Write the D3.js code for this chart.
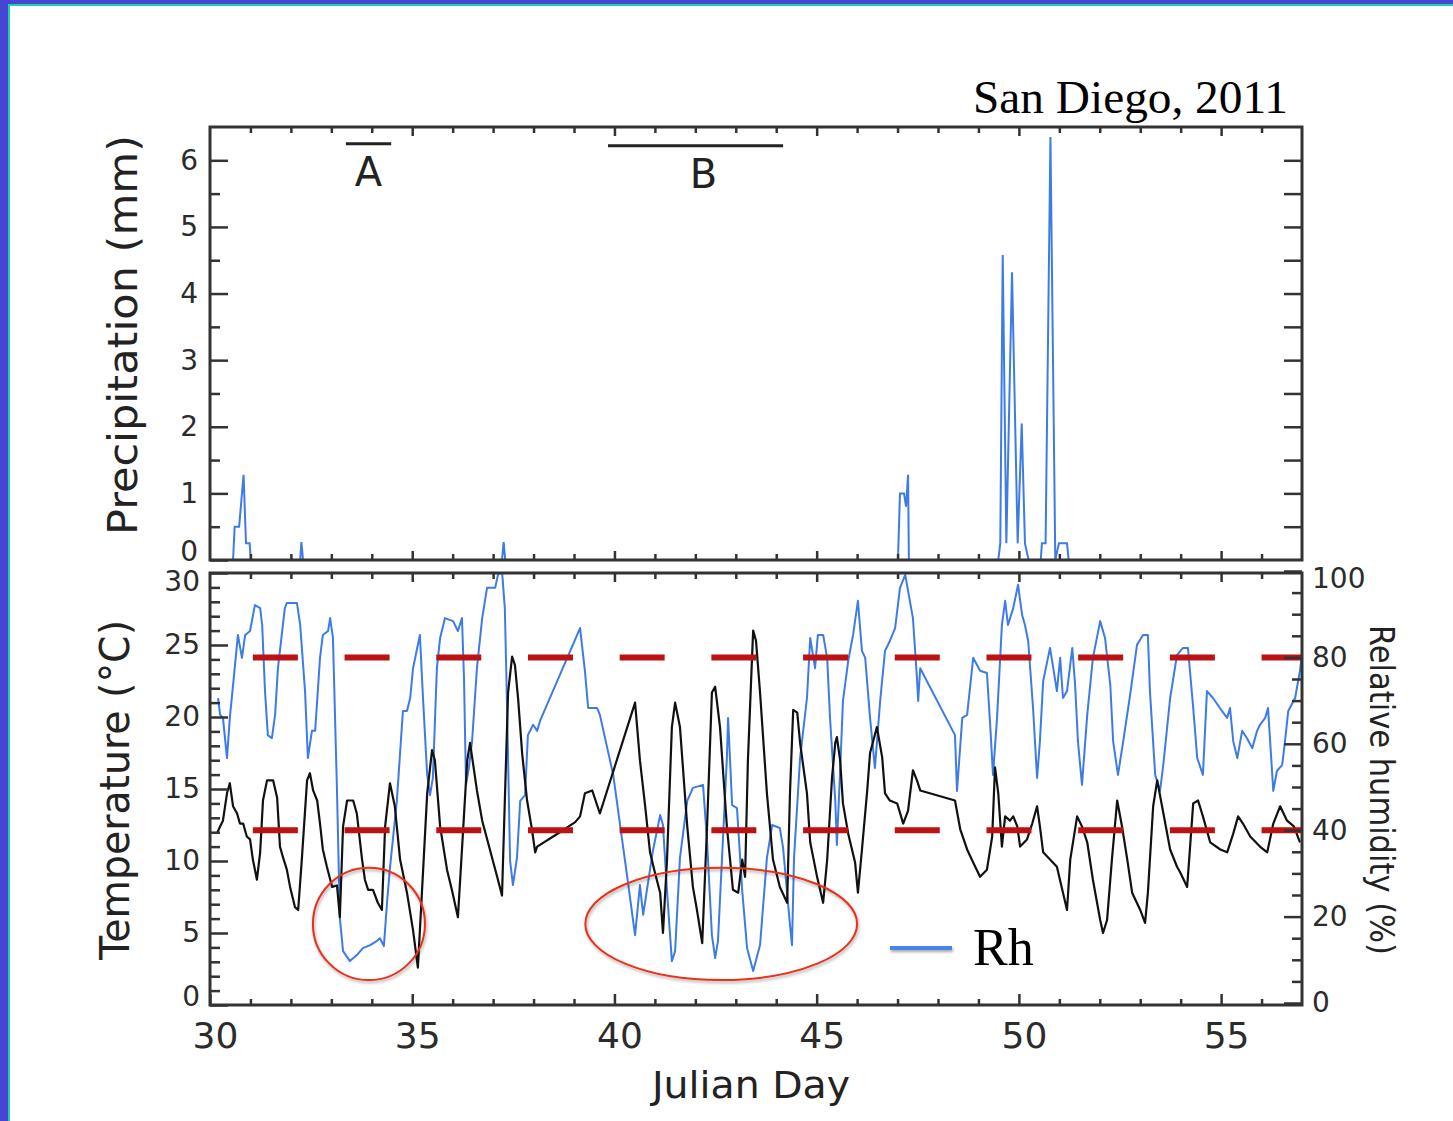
<!DOCTYPE html>
<html>
<head>
<meta charset="utf-8">
<title>San Diego, 2011</title>
<script src="https://d3js.org/d3.v7.min.js"></script>
<style>
  body { margin: 0; background: #fff; }
</style>
</head>
<body>
<script>
// ---- data ----
// precipitation (mm) vs Julian day
const precip = [[30,0],[30.57,0],[30.61,0.5],[30.72,0.5],[30.83,1.28],[30.89,0.25],[30.98,0.25],[31.01,0],
  [32.23,0],[32.26,0.27],[32.30,0],[37.22,0],[37.26,0.27],[37.30,0],
  [47.01,0],[47.06,1.0],[47.16,1.0],[47.21,0.8],[47.26,1.28],[47.28,0],
  [49.49,0],[49.54,0.25],[49.60,4.58],[49.69,0.25],[49.83,4.32],[49.97,0.25],[50.07,2.05],[50.15,0.25],[50.24,0],
  [50.54,0],[50.57,0.25],[50.66,0.25],[50.78,6.35],[50.90,0],[50.99,0.25],[51.19,0.25],[51.23,0],[57,0]];

// relative humidity (%)
const rh = [[30.20,70.6],[30.25,66.7],[30.32,66.0],[30.42,56.7],[30.49,66.0],[30.57,73.6],[30.69,85.2],[30.79,79.9],[30.87,85.2],[30.99,86.1],
  [31.11,92.1],[31.24,91.4],[31.29,87.5],[31.36,72.2],[31.43,62.0],[31.53,61.3],[31.61,66.7],[31.68,77.5],[31.85,91.4],[31.90,92.6],
  [32.15,92.6],[32.23,87.5],[32.35,72.2],[32.42,56.7],[32.52,63.0],[32.60,63.0],[32.72,79.9],[32.79,85.2],[32.92,86.1],[32.97,89.1],
  [33.04,84.5],[33.14,49.1],[33.21,19.7],[33.29,12.0],[33.46,9.7],[33.63,11.1],[33.78,12.7],[33.96,13.4],[34.13,14.4],[34.20,15.0],
  [34.30,13.2],[34.38,23.6],[34.45,31.3],[34.62,46.8],[34.77,67.6],[34.87,67.6],[34.95,70.6],[35.02,77.5],[35.19,85.2],[35.27,69.9],
  [35.37,52.8],[35.44,48.1],[35.51,52.1],[35.61,77.5],[35.69,84.5],[35.81,89.1],[36.01,88.4],[36.13,86.1],[36.23,89.1],[36.28,75.2],
  [36.33,50.5],[36.40,54.4],[36.48,60.6],[36.60,77.5],[36.73,89.1],[36.85,96.1],[37.05,96.1],[37.12,99.1],[37.22,100],[37.29,91.4],
  [37.34,70.6],[37.42,32.9],[37.49,27.3],[37.59,33.6],[37.67,46.8],[37.79,48.1],[37.86,62.0],[37.99,64.4],[38.09,63.0],[38.16,65.3],
  [39.15,86.8],[39.27,76.9],[39.35,68.3],[39.57,68.3],[39.64,66.7],[39.97,52.8],[40.31,29.6],[40.51,15.7],[40.63,27.3],[40.71,20.4],
  [40.81,26.6],[40.95,35.2],[41.13,43.5],[41.20,41.2],[41.30,25.9],[41.42,9.7],[41.50,12.0],[41.62,33.6],[41.80,46.8],[41.94,49.8],
  [42.19,50.5],[42.29,37.5],[42.41,15.7],[42.49,10.4],[42.56,14.4],[42.66,33.6],[42.78,56.7],[42.81,66.0],[42.91,45.8],[43.03,45.1],
  [43.16,25.9],[43.28,12.7],[43.43,7.4],[43.60,13.4],[43.77,33.6],[43.90,41.2],[44.09,40.5],[44.17,35.9],[44.34,18.1],[44.39,13.4],
  [44.44,33.6],[44.59,56.7],[44.76,70.6],[44.84,84.5],[44.96,77.5],[45.03,85.2],[45.16,85.2],[45.26,79.9],[45.33,66.0],[45.46,46.8],
  [45.50,36.6],[45.58,53.7],[45.65,69.9],[45.78,79.2],[45.90,85.2],[46.02,93.1],[46.12,81.5],[46.20,79.9],[46.32,66.0],[46.44,54.4],
  [46.57,69.9],[46.69,81.5],[46.81,83.8],[46.94,86.8],[47.06,96.1],[47.19,99.1],[47.26,95.4],[47.38,89.1],[47.48,75.2],[47.51,69.9],
  [47.56,77.5],[48.42,62.0],[48.47,49.1],[48.60,66.0],[48.72,66.7],[48.87,79.9],[49.04,76.9],[49.21,76.4],[49.29,64.4],[49.36,52.8],
  [49.46,66.0],[49.58,87.5],[49.66,93.1],[49.73,87.5],[49.86,91.4],[49.98,96.8],[50.08,89.8],[50.15,87.5],[50.23,83.8],[50.35,68.3],
  [50.45,52.1],[50.52,60.6],[50.60,74.5],[50.77,82.2],[50.85,77.5],[50.94,72.2],[51.02,79.9],[51.09,70.6],[51.19,72.2],[51.32,82.2],
  [51.39,73.6],[51.46,60.6],[51.56,50.5],[51.69,66.7],[51.83,79.9],[52.01,88.4],[52.13,84.5],[52.26,73.6],[52.33,60.6],[52.45,52.8],
  [52.58,60.6],[52.75,71.3],[52.92,82.9],[53.07,85.2],[53.19,85.2],[53.24,72.2],[53.37,52.8],[53.49,49.1],[53.57,55.1],[53.74,70.6],
  [53.91,80.6],[54.06,82.2],[54.18,82.2],[54.31,68.3],[54.41,56.7],[54.55,52.8],[54.65,72.2],[54.80,70.6],[55.02,67.6],[55.15,66.0],
  [55.22,68.3],[55.30,60.6],[55.40,56.7],[55.52,63.0],[55.64,61.3],[55.77,59.0],[55.89,63.0],[55.96,64.4],[56.09,66.0],[56.16,68.3],
  [56.29,49.1],[56.38,53.7],[56.51,55.1],[56.58,60.6],[56.66,67.6],[56.83,70.6],[56.95,76.9],[57.0,81]];

// temperature (°C)
const temp = [[30.17,11.9],[30.25,12.4],[30.32,12.8],[30.42,14.7],[30.49,15.4],[30.57,13.8],[30.67,13.3],[30.74,12.6],[30.82,12.6],[30.91,11.7],
  [30.99,11.5],[31.06,10.1],[31.16,8.7],[31.24,10.6],[31.31,14.2],[31.41,15.6],[31.56,15.6],[31.66,14.4],[31.73,11.0],[31.80,10.3],
  [31.90,9.4],[31.98,8.2],[32.10,6.8],[32.18,6.6],[32.27,10.1],[32.40,15.6],[32.47,16.1],[32.55,14.9],[32.65,14.2],[32.72,12.6],
  [32.79,10.8],[32.89,9.6],[33.02,8.2],[33.14,8.3],[33.21,6.1],[33.29,12.4],[33.39,14.2],[33.54,14.2],[33.63,13.3],[33.76,10.1],
  [33.83,8.7],[33.91,8.0],[34.03,8.0],[34.15,7.1],[34.25,6.6],[34.33,12.4],[34.45,15.4],[34.57,13.8],[34.70,10.1],[34.87,7.8],
  [35.02,5.2],[35.14,2.6],[35.24,7.8],[35.37,14.7],[35.49,17.7],[35.56,17.0],[35.69,12.4],[35.86,9.4],[35.98,8.0],[36.13,6.1],
  [36.23,10.8],[36.36,17.0],[36.43,18.2],[36.60,14.9],[36.73,12.8],[36.92,10.8],[37.10,8.9],[37.22,7.6],[37.29,14.2],[37.37,21.7],
  [37.47,24.2],[37.54,23.6],[37.62,21.2],[37.72,17.4],[37.84,14.2],[37.96,12.2],[38.04,10.6],[38.09,11.0],[38.65,12.0],[39.03,12.7],
  [39.15,13.1],[39.27,14.7],[39.45,14.9],[39.64,13.3],[40.51,21.0],[40.63,17.0],[40.76,13.8],[40.88,10.6],[41.00,9.2],[41.13,7.8],
  [41.20,5.0],[41.30,10.1],[41.42,19.3],[41.50,21.0],[41.62,19.3],[41.80,12.4],[41.94,8.2],[42.04,6.6],[42.17,4.3],[42.29,12.4],
  [42.41,21.7],[42.49,22.1],[42.61,19.3],[42.78,12.4],[42.93,8.0],[43.06,7.8],[43.16,10.1],[43.23,8.9],[43.30,17.0],[43.40,24.0],
  [43.43,26.0],[43.50,25.3],[43.60,21.7],[43.77,14.7],[43.92,10.1],[44.09,8.2],[44.27,7.1],[44.34,14.7],[44.42,20.5],[44.52,20.3],
  [44.59,18.2],[44.76,14.7],[44.84,11.3],[45.01,8.9],[45.16,7.1],[45.26,10.1],[45.38,15.8],[45.46,18.2],[45.50,18.6],[45.58,17.0],
  [45.65,14.0],[45.78,11.9],[45.95,9.9],[46.02,7.8],[46.12,10.8],[46.25,14.9],[46.32,17.5],[46.49,19.3],[46.62,17.2],[46.69,14.7],
  [46.81,14.2],[46.99,14.0],[47.14,12.6],[47.26,13.5],[47.38,16.3],[47.48,15.6],[47.56,14.9],[48.42,14.2],[48.55,12.2],[48.72,10.8],
  [48.87,9.9],[49.04,8.9],[49.21,9.4],[49.34,11.7],[49.41,16.5],[49.49,14.7],[49.58,11.0],[49.66,13.1],[49.78,12.8],[49.86,13.1],
  [49.96,12.4],[50.03,11.0],[50.20,11.5],[50.33,12.6],[50.45,13.8],[50.52,12.4],[50.60,10.6],[50.77,10.1],[50.94,9.6],[51.09,7.8],
  [51.19,6.6],[51.27,10.1],[51.44,13.1],[51.56,12.4],[51.69,11.3],[51.83,8.7],[52.01,5.9],[52.08,5.0],[52.18,5.9],[52.30,10.1],
  [52.43,14.2],[52.55,12.4],[52.68,10.1],[52.80,7.8],[53.00,6.6],[53.12,5.7],[53.19,7.8],[53.32,13.8],[53.42,15.6],[53.54,13.8],
  [53.74,10.8],[53.91,9.6],[53.99,9.2],[54.16,8.2],[54.21,10.1],[54.31,14.0],[54.43,14.2],[54.55,13.1],[54.73,11.3],[54.98,10.8],
  [55.15,10.6],[55.30,11.9],[55.42,13.1],[55.54,12.6],[55.72,11.7],[55.96,11.0],[56.14,10.6],[56.29,12.6],[56.46,13.8],[56.63,12.8],
  [56.80,12.4],[56.95,11.3]];

const rhThresholds = [40, 80];               // dashed red lines
const periods = [{label: "A", start: 33.36, end: 34.48, level: 6.25},
                 {label: "B", start: 39.84, end: 44.17, level: 6.22}];
// circled low-humidity episodes: centre day, centre Rh, half-width (days), half-height (%)
const circled = [{day: 33.93, rh: 18.3, dx: 1.385, dy: 13},
                 {day: 42.64, rh: 18.3, dx: 3.36, dy: 13}];

const xTicks = [30, 35, 40, 45, 50, 55];
const precipTicks = [0, 1, 2, 3, 4, 5, 6];
const tempTicks = [0, 5, 10, 15, 20, 25, 30];
const rhTicks = [0, 20, 40, 60, 80, 100];

// ---- layout ----
const W = 1453, H = 1121;
const left = 210, right = 1302;
const topY0 = 127, topY1 = 560;     // precipitation panel
const botY0 = 573, botY1 = 1005;    // temperature / Rh panel

const x = d3.scaleLinear().domain([30, 57]).range([left, right]);
const yP = d3.scaleLinear().domain([0, 6.5]).range([topY1, topY0]);
const yT = d3.scaleLinear().domain([0, 30]).range([botY1, botY0]);
const yR = d3.scaleLinear().domain([0, 100]).range([1003, 571]);

const blue = "#3d7be6", axisCol = "#333", textCol = "#2b2b2b";
const sans = "'DejaVu Sans', Verdana, sans-serif";
const serif = "'Liberation Serif', 'Times New Roman', serif";

const svg = d3.select("body").append("svg")
  .attr("width", W).attr("height", H);

// slide frame
svg.append("rect").attr("width", W).attr("height", H).attr("fill", "#4646d4");
svg.append("rect").attr("x", 8).attr("y", 4).attr("width", W).attr("height", H).attr("fill", "#1fd0a9");
svg.append("rect").attr("x", 10).attr("y", 6).attr("width", W).attr("height", H).attr("fill", "#fff");

const defs = svg.append("defs");
defs.append("clipPath").attr("id", "clipTop").append("rect")
  .attr("x", left).attr("y", topY0).attr("width", right - left).attr("height", topY1 - topY0);
defs.append("clipPath").attr("id", "clipBot").append("rect")
  .attr("x", left).attr("y", botY0).attr("width", right - left).attr("height", botY1 - botY0);
// shadow in user space so it also works on a flat line
const shadow = defs.append("filter").attr("id", "shadow")
  .attr("filterUnits", "userSpaceOnUse")
  .attr("x", 0).attr("y", 0).attr("width", W).attr("height", H);
shadow.append("feDropShadow").attr("dx", 1).attr("dy", 2).attr("stdDeviation", 1.5)
  .attr("flood-color", "#000").attr("flood-opacity", 0.35);

// ---- data lines ----
const precipLine = d3.line().x(d => x(d[0])).y(d => yP(d[1]));
const rhLine = d3.line().x(d => x(d[0])).y(d => yR(d[1]));
const tempLine = d3.line().x(d => x(d[0])).y(d => yT(d[1]));

svg.append("g").attr("clip-path", "url(#clipTop)")
  .append("path").datum(precip)
  .attr("d", precipLine).attr("fill", "none")
  .attr("stroke", blue).attr("stroke-width", 2);

const bot = svg.append("g").attr("clip-path", "url(#clipBot)");
bot.append("path").datum(rh)
  .attr("d", rhLine).attr("fill", "none")
  .attr("stroke", blue).attr("stroke-width", 2).attr("stroke-linejoin", "round");
bot.append("path").datum(temp)
  .attr("d", tempLine).attr("fill", "none")
  .attr("stroke", "#111").attr("stroke-width", 2.2).attr("stroke-linejoin", "round");
bot.selectAll("line.thr").data(rhThresholds).enter().append("line")
  .attr("class", "thr")
  .attr("x1", x(31.06)).attr("x2", right)
  .attr("y1", d => yR(d)).attr("y2", d => yR(d))
  .attr("stroke", "#bd1212").attr("stroke-width", 6)
  .attr("stroke-dasharray", "45 46.7");

// ---- axes ----
function clean(g, size) {
  g.select(".domain").remove();
  g.selectAll(".tick line").attr("stroke", axisCol).attr("stroke-width", 2.5);
  g.attr("font-family", sans).attr("font-size", size || 10);
  g.selectAll(".tick text").attr("fill", textCol);
  return g;
}
const days = d3.range(31, 57);
const noLabel = () => "";

// precipitation panel
svg.append("g").attr("transform", `translate(${left},0)`)
  .call(d3.axisLeft(yP).tickValues(d3.range(0.5, 6.5, 1)).tickSize(-10).tickFormat(noLabel))
  .call(g => clean(g));
svg.append("g").attr("transform", `translate(${left},0)`)
  .call(d3.axisLeft(yP).tickValues(precipTicks).tickSize(-18).tickPadding(12).tickFormat(d3.format("d")))
  .call(g => clean(g, 28))
  .call(g => g.selectAll(".tick text").attr("y", d => d === 0 ? -8 : 0));
svg.append("g").attr("transform", `translate(${right},0)`)
  .call(d3.axisRight(yP).tickValues(d3.range(0.5, 6.5, 0.5)).tickSize(-18).tickFormat(noLabel))
  .call(g => clean(g));
[topY0, topY1].forEach((yy, i) => {
  const ax = i === 0 ? d3.axisTop(x) : d3.axisBottom(x);
  svg.append("g").attr("transform", `translate(0,${yy})`)
    .call(ax.tickValues(days.filter(d => d % 5)).tickSize(-6).tickFormat(noLabel))
    .call(g => clean(g));
  svg.append("g").attr("transform", `translate(0,${yy})`)
    .call((i === 0 ? d3.axisTop(x) : d3.axisBottom(x)).tickValues([35, 40, 45, 50, 55]).tickSize(-9).tickFormat(noLabel))
    .call(g => clean(g));
});

// temperature / Rh panel
svg.append("g").attr("transform", `translate(${left},0)`)
  .call(d3.axisLeft(yT).tickValues(d3.range(1, 30).filter(d => d % 5)).tickSize(-10).tickFormat(noLabel))
  .call(g => clean(g));
svg.append("g").attr("transform", `translate(${left},0)`)
  .call(d3.axisLeft(yT).tickValues(tempTicks).tickSize(-18).tickPadding(10).tickFormat(d3.format("d")))
  .call(g => clean(g, 28))
  .call(g => g.selectAll(".tick text").attr("y", d => d === 0 ? -8 : d === 30 ? 9 : 0));
svg.append("g").attr("transform", `translate(${right},0)`)
  .call(d3.axisRight(yR).tickValues(d3.range(5, 100, 5).filter(d => d % 20)).tickSize(-10).tickFormat(noLabel))
  .call(g => clean(g));
svg.append("g").attr("transform", `translate(${right},0)`)
  .call(d3.axisRight(yR).tickValues(rhTicks).tickSize(-18).tickPadding(10).tickFormat(d3.format("d")))
  .call(g => clean(g, 28))
  .call(g => g.selectAll(".tick text").attr("y", d => d === 100 ? 8 : 0));
svg.append("g").attr("transform", `translate(0,${botY0})`)
  .call(d3.axisTop(x).tickValues(days.filter(d => d % 5)).tickSize(-6).tickFormat(noLabel))
  .call(g => clean(g));
svg.append("g").attr("transform", `translate(0,${botY0})`)
  .call(d3.axisTop(x).tickValues([35, 40, 45, 50, 55]).tickSize(-9).tickFormat(noLabel))
  .call(g => clean(g));
svg.append("g").attr("transform", `translate(0,${botY1})`)
  .call(d3.axisBottom(x).tickValues(days.filter(d => d % 5)).tickSize(-6).tickFormat(noLabel))
  .call(g => clean(g));
svg.append("g").attr("transform", `translate(0,${botY1})`)
  .call(d3.axisBottom(x).tickValues(xTicks).tickSize(-11).tickPadding(17).tickFormat(d3.format("d")))
  .call(g => clean(g, 36))
  .call(g => g.selectAll(".tick text").attr("dx", 5));

// panel frames
[[topY0, topY1], [botY0, botY1]].forEach(([a, b]) => {
  svg.append("rect").attr("x", left).attr("y", a)
    .attr("width", right - left).attr("height", b - a)
    .attr("fill", "none").attr("stroke", axisCol).attr("stroke-width", 3);
});

// ---- annotations ----
svg.selectAll("line.period").data(periods).enter().append("line")
  .attr("class", "period")
  .attr("x1", d => x(d.start)).attr("x2", d => x(d.end))
  .attr("y1", d => yP(d.level)).attr("y2", d => yP(d.level))
  .attr("stroke", "#222").attr("stroke-width", 3);
svg.selectAll("text.period").data(periods).enter().append("text")
  .attr("class", "period")
  .attr("x", d => (x(d.start) + x(d.end)) / 2 + (d.label === "A" ? 0 : 8))
  .attr("y", d => yP(d.level) + 42)
  .attr("text-anchor", "middle")
  .attr("font-family", sans).attr("font-size", 40).attr("fill", "#222")
  .text(d => d.label);

svg.selectAll("ellipse").data(circled).enter().append("ellipse")
  .attr("cx", d => x(d.day)).attr("cy", d => yR(d.rh))
  .attr("rx", d => x(d.day + d.dx) - x(d.day))
  .attr("ry", d => yR(d.rh - d.dy) - yR(d.rh))
  .attr("fill", "none").attr("stroke", "#e8301c").attr("stroke-width", 2)
  .attr("filter", "url(#shadow)");

// legend
svg.append("line").attr("x1", 890).attr("x2", 952).attr("y1", 948).attr("y2", 948)
  .attr("stroke", "#4a84ee").attr("stroke-width", 4).attr("filter", "url(#shadow)");
svg.append("text").attr("x", 973).attr("y", 965)
  .attr("font-family", serif).attr("font-size", 52).attr("fill", "#000")
  .text("Rh");

// titles
svg.append("text").attr("x", 973).attr("y", 113)
  .attr("font-family", serif).attr("font-size", 46).attr("fill", "#000")
  .attr("textLength", 315).attr("lengthAdjust", "spacingAndGlyphs")
  .text("San Diego, 2011");

svg.append("text").attr("transform", "translate(137,335) rotate(-90)")
  .attr("text-anchor", "middle").attr("font-family", sans).attr("font-size", 40).attr("fill", "#222")
  .attr("textLength", 400).attr("lengthAdjust", "spacingAndGlyphs")
  .text("Precipitation (mm)");
svg.append("text").attr("transform", "translate(129,790) rotate(-90)")
  .attr("text-anchor", "middle").attr("font-family", sans).attr("font-size", 40).attr("fill", "#222")
  .attr("textLength", 340).attr("lengthAdjust", "spacingAndGlyphs")
  .text("Temperature (°C)");
svg.append("text").attr("transform", "translate(1370,790) rotate(90)")
  .attr("text-anchor", "middle").attr("font-family", sans).attr("font-size", 33).attr("fill", "#222")
  .attr("textLength", 330).attr("lengthAdjust", "spacingAndGlyphs")
  .text("Relative humidity (%)");
svg.append("text").attr("x", 751).attr("y", 1098)
  .attr("text-anchor", "middle").attr("font-family", sans).attr("font-size", 38).attr("fill", "#222")
  .attr("textLength", 198).attr("lengthAdjust", "spacingAndGlyphs")
  .text("Julian Day");
</script>
</body>
</html>
